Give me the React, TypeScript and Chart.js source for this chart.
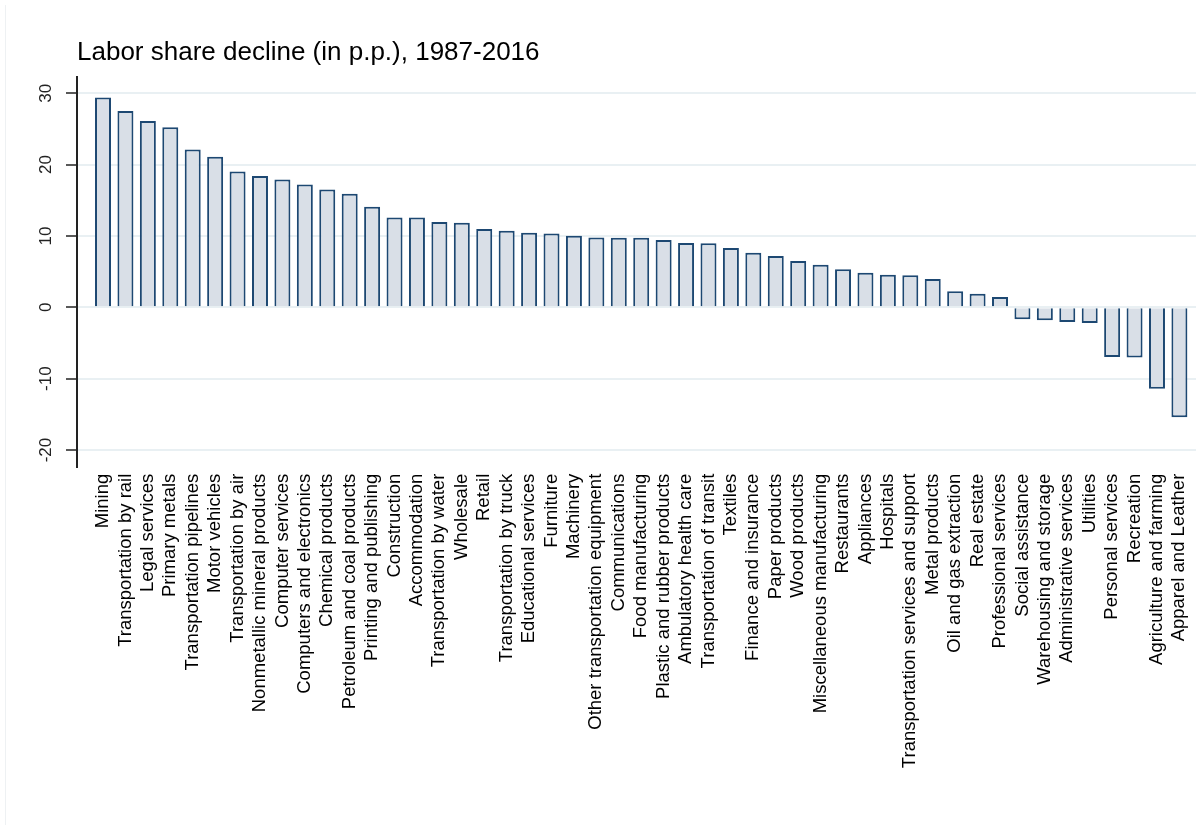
import { useEffect, useRef } from "react";
import { Chart, registerables } from "chart.js";

Chart.register(...registerables);

const titleText = "Labor share decline (in p.p.), 1987-2016";

const categories = [
  "Mining",
  "Transportation by rail",
  "Legal services",
  "Primary metals",
  "Transportation pipelines",
  "Motor vehicles",
  "Transportation by air",
  "Nonmetallic mineral products",
  "Computer services",
  "Computers and electronics",
  "Chemical products",
  "Petroleum and coal products",
  "Printing and publishing",
  "Construction",
  "Accommodation",
  "Transportation by water",
  "Wholesale",
  "Retail",
  "Transportation by truck",
  "Educational services",
  "Furniture",
  "Machinery",
  "Other transportation equipment",
  "Communications",
  "Food manufacturing",
  "Plastic and rubber products",
  "Ambulatory health care",
  "Transportation of transit",
  "Textiles",
  "Finance and insurance",
  "Paper products",
  "Wood products",
  "Miscellaneous manufacturing",
  "Restaurants",
  "Appliances",
  "Hospitals",
  "Transportation services and support",
  "Metal products",
  "Oil and gas extraction",
  "Real estate",
  "Professional services",
  "Social assistance",
  "Warehousing and storage",
  "Administrative services",
  "Utilities",
  "Personal services",
  "Recreation",
  "Agriculture and farming",
  "Apparel and Leather",
];

const declineValues = [
  29.4, 27.5, 26.1, 25.25, 22.1, 21.1, 19.05, 18.4, 17.9, 17.2,
  16.5, 15.9, 14.1, 12.6, 12.6, 11.95, 11.85, 10.97, 10.73, 10.45,
  10.36, 10.03, 9.8, 9.75, 9.75, 9.43, 9.0, 8.96, 8.3, 7.65,
  7.18, 6.48, 5.97, 5.32, 4.85, 4.57, 4.48, 3.96, 2.24, 1.9,
  1.44, -1.68, -1.82, -2.06, -2.2, -6.96, -7.05, -11.4, -15.4,
];

const yTickValues = [-20, -10, 0, 10, 20, 30];

const FONT = "'Liberation Sans', Arial, Helvetica, sans-serif";

const framePlugin = {
  id: "frame",
  beforeDraw(chart: any) {
    const ctx = chart.ctx;
    ctx.save();
    ctx.fillStyle = "#ffffff";
    ctx.fillRect(0, 0, chart.width, chart.height);
    ctx.strokeStyle = "#eef1f3";
    ctx.lineWidth = 1;
    ctx.beginPath();
    ctx.moveTo(5.5, 5);
    ctx.lineTo(5.5, chart.height);
    ctx.stroke();
    ctx.restore();
  },
};

export default function App() {
  const ref = useRef<HTMLCanvasElement>(null);

  useEffect(() => {
    const canvas = ref.current;
    if (!canvas) return;
    const chart = new Chart(canvas, {
      type: "bar",
      data: {
        datasets: [
          {
            data: declineValues.map((v, i) => ({ x: i, y: v })),
            backgroundColor: "#d9dfe7",
            borderColor: "#1d4872",
            borderWidth: 2,
            barPercentage: 0.713,
            categoryPercentage: 1,
          },
        ],
      },
      options: {
        responsive: false,
        animation: false,
        layout: { autoPadding: false, padding: { left: 0, right: 0, top: 0, bottom: 0 } },
        plugins: {
          legend: { display: false },
          tooltip: { enabled: false },
          title: {
            display: true,
            text: titleText,
            align: "start",
            fullSize: false,
            color: "#000000",
            font: { family: FONT, size: 26, weight: "normal" },
            padding: { top: 37, bottom: 8.5 },
          },
        },
        scales: {
          x: {
            type: "linear",
            offset: false,
            min: -1.16,
            max: 48.74,
            grid: { display: false, drawTicks: false, offset: false },
            border: { display: false },
            afterBuildTicks: (s: any) => {
              s.ticks = categories.map((_, i) => ({ value: i }));
            },
            afterFit: (s: any) => {
              s.height = 358.3;
              s.paddingLeft = 0;
              s.paddingRight = 0;
            },
            ticks: {
              autoSkip: false,
              minRotation: 90,
              maxRotation: 90,
              padding: 7,
              color: "#000000",
              font: { family: FONT, size: 18.5 },
              callback: (v: any) => categories[Math.round(Number(v))] ?? "",
            },
          },
          y: {
            min: -22.34,
            max: 32.32,
            afterBuildTicks: (s: any) => {
              s.ticks = yTickValues.map((v) => ({ value: v }));
            },
            afterFit: (s: any) => {
              s.width = 77;
              s.paddingTop = 0;
              s.paddingBottom = 0;
            },
            grid: {
              color: "#e9f0f3",
              lineWidth: 2,
              tickColor: "#222222",
              tickWidth: 1.5,
              tickLength: 11,
              drawTicks: true,
            },
            border: { display: true, color: "#222222", width: 2 },
            ticks: {
              includeBounds: false,
              minRotation: 90,
              maxRotation: 90,
              crossAlign: "center",
              padding: 7,
              color: "#222222",
              font: { family: FONT, size: 17 },
            },
          },
        },
      },
      plugins: [framePlugin],
    } as any);
    return () => chart.destroy();
  }, []);

  return (
    <div style={{ position: "absolute", left: 0, top: 0, width: 1196, height: 825 }}>
      <canvas ref={ref} width={1196} height={825} style={{ display: "block" }} />
    </div>
  );
}
